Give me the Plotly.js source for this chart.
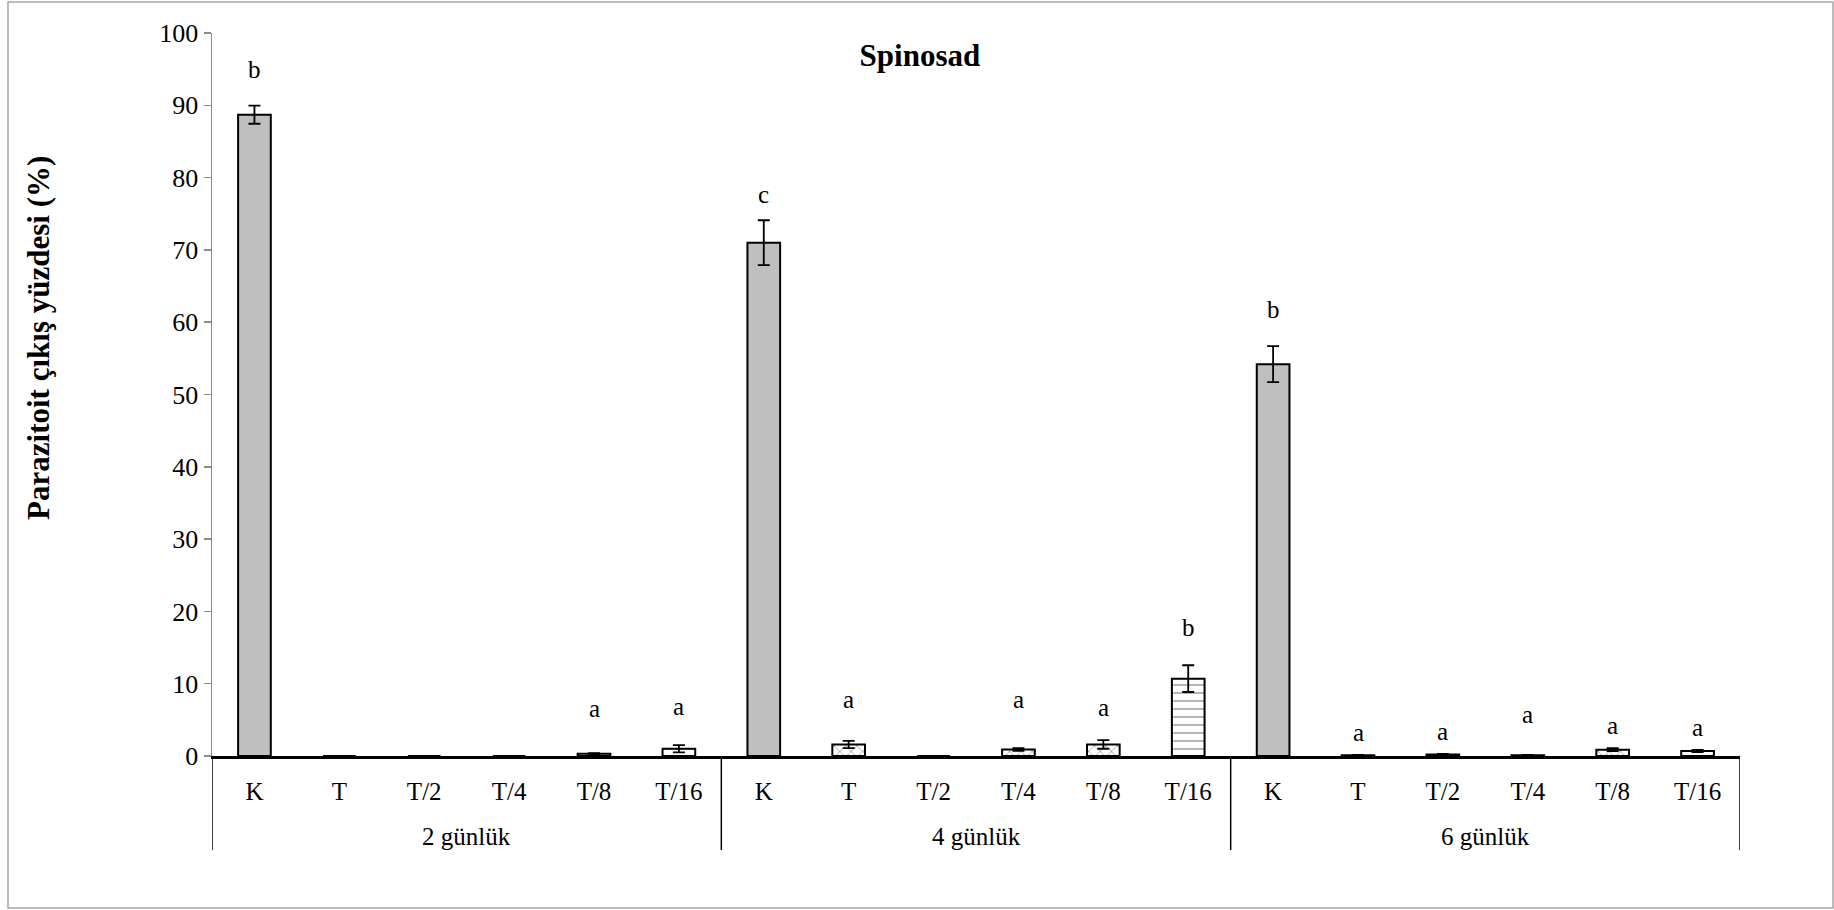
<!DOCTYPE html>
<html>
<head>
<meta charset="utf-8">
<script src="https://cdn.plot.ly/plotly-3.0.1.min.js"></script>
<style>html,body{margin:0;padding:0;background:#fff;}#chart{width:1834px;height:910px;}</style>
</head>
<body>
<div id="chart"></div>
<script>
// ---- data ----
const groups = ["2 günlük", "4 günlük", "6 günlük"];
const treatments = ["K", "T", "T/2", "T/4", "T/8", "T/16"];
const values2 = [88.7, 0, 0, 0, 0.3, 1.0];
const errors2 = [1.25, 0, 0, 0, 0.1, 0.5];
const letters2 = ["b", "", "", "", "a", "a"];
const letterY2 = [95.0, null, null, null, 6.6, 6.8];
const values4 = [71.0, 1.6, 0, 0.9, 1.6, 10.7];
const errors4 = [3.1, 0.5, 0, 0.2, 0.6, 1.85];
const letters4 = ["c", "a", "", "a", "a", "b"];
const letterY4 = [77.7, 7.8, null, 7.8, 6.7, 17.8];
const values6 = [54.2, 0.1, 0.2, 0.1, 0.88, 0.7];
const errors6 = [2.5, 0.05, 0.1, 0.05, 0.2, 0.15];
const letters6 = ["b", "a", "a", "a", "a", "a"];
const letterY6 = [61.8, 3.2, 3.4, 5.8, 4.2, 3.9];
const yTicks = [0, 10, 20, 30, 40, 50, 60, 70, 80, 90, 100];

// ---- build ----
const values = values2.concat(values4, values6);
const errors = errors2.concat(errors4, errors6);
const letters = letters2.concat(letters4, letters6);
const letterY = letterY2.concat(letterY4, letterY6);
const nT = treatments.length;
const xs = values.map((v, i) => i);
const tickText = groups.flatMap(() => treatments);

const patternByTreatment = {"K": "", "T": "x", "T/2": ".", "T/4": "x", "T/8": "x", "T/16": "-"};
const shapesPat = xs.map(i => patternByTreatment[treatments[i % nT]]);
const fillColors = xs.map(i => treatments[i % nT] === "K" ? "#bfbfbf" : "#ffffff");

const SERIF = "'Liberation Serif', 'Times New Roman', serif";

const bar = {
  type: "bar",
  x: xs,
  y: values,
  width: 0.385,
  marker: {
    color: fillColors,
    line: {color: "#000", width: 2},
    pattern: {shape: shapesPat, fgcolor: "#c4c4c4", bgcolor: "#ffffff", size: 8, solidity: 0.2, fillmode: "overlay"}
  },
  error_y: {type: "data", array: errors, visible: true, color: "#000", thickness: 1.8, width: 6},
  hoverinfo: "skip",
  showlegend: false
};

const annotations = [];
letters.forEach((t, i) => {
  if (t) annotations.push({x: i, y: letterY[i], xref: "x", yref: "y", text: t, showarrow: false,
    font: {family: SERIF, size: 25, color: "#000"}, yanchor: "middle"});
});
groups.forEach((g, k) => {
  annotations.push({x: k * nT + (nT - 1) / 2, y: -0.1107, xref: "x", yref: "paper", text: g, showarrow: false,
    font: {family: SERIF, size: 25, color: "#000"}, yanchor: "middle"});
});
annotations.push({x: -0.114, y: 0.578, xref: "paper", yref: "paper", text: "<b>Parazitoit çıkış yüzdesi (%)</b>",
  textangle: -90, showarrow: false, font: {family: SERIF, size: 31, color: "#000"}, xanchor: "center", yanchor: "middle"});

const shapes = [];
for (let k = 0; k <= groups.length; k++) {
  shapes.push({type: "line", xref: "x", yref: "paper", x0: k * nT - 0.5, x1: k * nT - 0.5, y0: 0, y1: -0.130,
    line: {color: "#000", width: 1.5}});
}
// chart border
shapes.push({type: "rect", xref: "paper", yref: "paper",
  x0: (8 - 212) / 1528, x1: (1833 - 212) / 1528, y0: (756 - 908) / 723, y1: (756 - 2) / 723,
  line: {color: "#a6a6a6", width: 1.5}, fillcolor: "rgba(0,0,0,0)", layer: "below"});

const layout = {
  width: 1834, height: 910,
  margin: {l: 212, r: 94, t: 33, b: 154},
  paper_bgcolor: "#fff", plot_bgcolor: "#fff",
  title: {text: "<b>Spinosad</b>", x: 0.5016, xanchor: "center", y: 0.9396, yanchor: "middle",
    font: {family: SERIF, size: 31, color: "#000"}},
  xaxis: {
    range: [-0.5, xs.length - 0.5], tickvals: xs, ticktext: tickText,
    showline: true, linecolor: "#000", linewidth: 2.5, zeroline: false, showgrid: false,
    ticks: "outside", ticklen: 11, tickcolor: "rgba(0,0,0,0)",
    tickfont: {family: SERIF, size: 25, color: "#000"}, fixedrange: true
  },
  yaxis: {
    range: [0, 100], tickvals: yTicks, showline: true, linecolor: "#8c8c8c", linewidth: 1.5,
    ticks: "outside", ticklen: 7, tickcolor: "#8c8c8c", tickwidth: 1.5, showgrid: false, zeroline: false,
    tickfont: {family: SERIF, size: 26, color: "#000"}, fixedrange: true
  },
  annotations: annotations,
  shapes: shapes,
  bargap: 0
};

Plotly.newPlot("chart", [bar], layout, {displayModeBar: false, staticPlot: true});
</script>
</body>
</html>
